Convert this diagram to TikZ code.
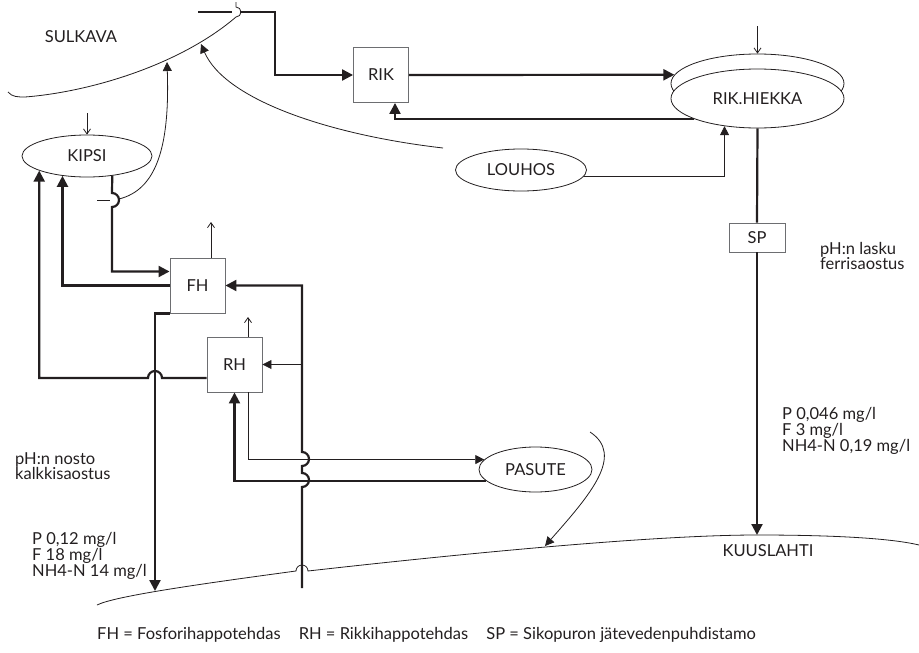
\documentclass[tikz,border=0pt]{standalone}
\usepackage{fontspec}
\setmainfont{Lato}
\usepackage{xcolor}
\usetikzlibrary{arrows.meta,shapes.geometric}
\definecolor{flowink}{HTML}{231F20}
\definecolor{flowgrey}{HTML}{6D6E71}

\begin{document}
\begin{tikzpicture}[
  x=1pt,
  y=-1pt,
  every node/.style={font=\fontsize{16.5}{15}\selectfont, text=flowink},
  plant/.style={draw=flowgrey, line width=0.9pt, minimum width=55pt, minimum height=55pt, inner sep=0pt},
  store/.style={ellipse, draw=flowink, line width=0.8pt, inner sep=0pt},
  note/.style={align=left, anchor=north west, inner sep=0pt},
  pipe/.style={flowink, line width=2.2pt},
  heavy/.style={pipe, -{Triangle[length=11pt,width=11pt]}},
  seep/.style={flowink, line width=0.8pt},
  light/.style={seep, -{Triangle[length=9pt,width=9pt]}},
  vent/.style={seep, -{Straight Barb[length=5pt,width=7pt]}}
]
  % ---- bounding box, pixel grid of the scan ----
  \useasboundingbox (0,0) rectangle (919,653);

  % ---- plants and stores ----
  \node[plant] (rik) at (381,75) {RIK};
  \node[plant] (fh) at (197.5,285.5) {FH};
  \node[plant] (rh) at (234.5,364.5) {RH};
  \node[plant, minimum width=56pt, minimum height=29pt] (sp) at (757,237.5) {SP};
  \node[store, minimum width=173pt, minimum height=59pt] (hiekkab) at (757.5,83.5) {};
  \node[store, fill=white, minimum width=173pt, minimum height=59pt] (hiekka) at (757.5,98.5) {RIK.HIEKKA};
  \node[store, minimum width=130pt, minimum height=42pt] (kipsi) at (87,156) {KIPSI};
  \node[store, minimum width=131pt, minimum height=42pt] (louhos) at (521,170) {LOUHOS};
  \node[store, minimum width=113pt, minimum height=45pt] (pasute) at (535.5,469.5) {PASUTE};

  % ---- free ends ----
  \coordinate (intake) at (198,12);
  \coordinate (cross) at (236,12);
  \coordinate (fade) at (443,148);
  \coordinate (kipsi-drain) at (97,200);
  \coordinate (kuus-in) at (302,588);
  \coordinate (fh-out) at (155,591);
  \coordinate (sp-out) at (757,535);
  \coordinate (pasute-top) at (590,432);
  \coordinate (hiekka-in) at (757.5,26);
  \coordinate (kipsi-in) at (87,113);
  \coordinate (fh-vent) at (211,222);
  \coordinate (rh-vent) at (248,317);

  % ---- lake shores ----
  \draw[seep] (8,92) .. controls (12,97) and (18,97) .. (25,97)
    .. controls (90,92) and (180,65) .. ([yshift=-5pt]cross)
    arc[start angle=-90, end angle=90, radius=5pt] -- ++(0,-5);
  \draw[seep] (97,605) .. controls (115,596) and (200,584) .. (296,571)
    arc[start angle=180, end angle=0, radius=6pt]
    .. controls (450,555) and (650,535) .. (757,535)
    .. controls (830,535) and (890,538) .. (919,545);

  % ---- RIK loop ----
  \draw[pipe] (intake) -- ([xshift=-4pt]cross);
  \draw[heavy] ([xshift=4pt]cross) -- (275,12) |- (rik.west);
  \draw[heavy] (rik.east) -- (hiekkab.174);
  \draw[heavy] (hiekka.198) -| ([xshift=14pt]rik.south);
  \draw[vent] (hiekka-in) -- (hiekkab.north);
  \draw[light] (louhos.-6.5) -| (hiekka.220);
  \draw[light] (fade) .. controls (330,135) and (225,100) .. (201,44);

  % ---- SP outlet ----
  \draw[pipe] (hiekka.south) -- (sp.north);
  \draw[heavy] (sp.south) -- (sp-out);

  % ---- KIPSI ----
  \draw[vent] (kipsi-in) -- (kipsi.north);
  \draw[heavy] (kipsi.-38) -- (112,193)
    arc[start angle=90, end angle=-90, radius=7pt]
    |- ([yshift=14pt]fh.west);
  \draw[seep] (kipsi-drain) -- (110,200);
  \draw[light] (119,199) .. controls (155,190) and (170,150) .. (167,62);

  % ---- FH ----
  \draw[vent] (fh.north -| fh-vent) -- (fh-vent);
  \draw[heavy] (fh.west) -| (kipsi.219);
  \draw[heavy] (fh.south west) -| (fh-out);
  \draw[heavy] (kuus-in) -- (302,487)
    arc[start angle=-90, end angle=90, radius=7pt] -- (302,466)
    arc[start angle=-90, end angle=90, radius=7pt] |- (fh.east);

  % ---- RH ----
  \draw[vent] (rh.north -| rh-vent) -- (rh-vent);
  \draw[light] (rh.east -| kuus-in) -- (rh.east);
  \draw[heavy] ([yshift=-13.5pt]rh.west) -- (162,378)
    arc[start angle=0, end angle=180, radius=7pt] -| (kipsi.197);
  \draw[heavy] (pasute.193) -| (rh.south);
  \draw[light] ([xshift=13.5pt]rh.south) |- (pasute.169);
  \draw[light] (pasute-top) .. controls (625,455) and (590,495) .. (545,546);

  % ---- texts ----
  \node (sulkava) at (81,37) {SULKAVA};
  \node (kuuslahti) at (768,551) {KUUSLAHTI};
  \node[note] (lasku) at (820,242) {pH:n lasku\\ferrisaostus};
  \node[note] (sp-load) at (782,407) {P 0,046 mg/l\\F 3 mg/l\\NH4-N 0,19 mg/l};
  \node[note] (nosto) at (15,452) {pH:n nosto\\kalkkisaostus};
  \node[note] (fh-load) at (32,532) {P 0,12 mg/l\\F 18 mg/l\\NH4-N 14 mg/l};
  \node[anchor=base west, inner sep=0pt] (legend) at (97,639)
    {FH = Fosforihappotehdas\hspace{1.1em}RH = Rikkihappotehdas\hspace{1.1em}SP = Sikopuron jätevedenpuhdistamo};
\end{tikzpicture}
\end{document}
